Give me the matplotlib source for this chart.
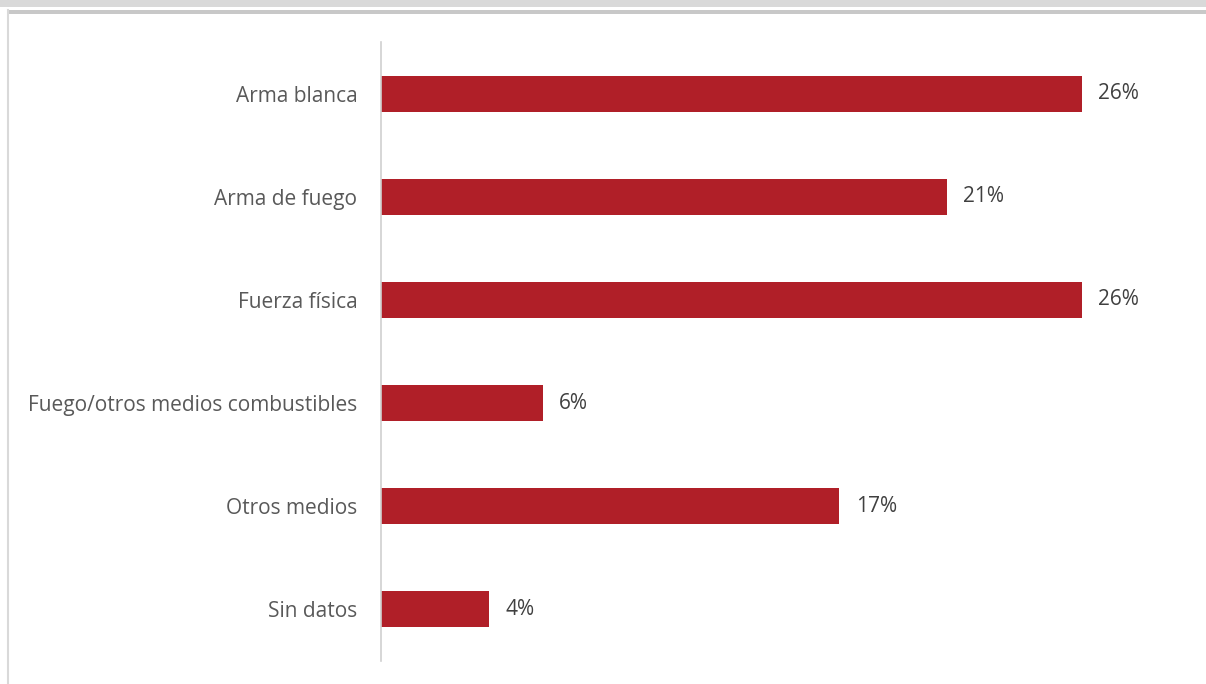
import matplotlib
matplotlib.use("Agg")
import matplotlib.pyplot as plt
from matplotlib.patches import Rectangle
from matplotlib.lines import Line2D

# datos
categorias = [
    "Arma blanca",
    "Arma de fuego",
    "Fuerza física",
    "Fuego/otros medios combustibles",
    "Otros medios",
    "Sin datos",
]
porcentajes = [26, 21, 26, 6, 17, 4]
etiquetas = ["26%", "21%", "26%", "6%", "17%", "4%"]

ROJO = "#B01F28"
plt.rcParams["font.family"] = ["Open Sans", "DejaVu Sans"]

fig = plt.figure(figsize=(12.06, 6.84), dpi=100)
W, H = 1206, 684

# marco de la hoja: franja gris superior, línea y borde izquierdo
fig.patches.append(Rectangle((0, 1 - 7 / H), 1, 7 / H, transform=fig.transFigure,
                             facecolor="#d9d9d9", edgecolor="none"))
fig.patches.append(Rectangle((7 / W, 1 - 14 / H), 1, 4 / H, transform=fig.transFigure,
                             facecolor="#c8c8c8", edgecolor="none"))
fig.lines.append(Line2D([7.5 / W, 7.5 / W], [0, 1 - 10 / H], transform=fig.transFigure,
                        color="#d9d9d9", lw=1.5))

ax = fig.add_axes([381 / W, 23 / H, 809 / W, 619 / H])
y = list(range(len(categorias)))
barras = ax.barh(y, porcentajes, height=0.35, color=ROJO)
for b, txt in zip(barras, etiquetas):
    ax.text(b.get_width() + 0.6, b.get_y() + b.get_height() / 2, txt,
            va="center", ha="left", fontsize=15, color="#404040")

ax.set_xlim(0, 30)
ax.set_ylim(5.5, -0.5)
ax.set_yticks(y)
ax.set_yticklabels(categorias, fontsize=15, color="#595959")
ax.tick_params(axis="y", length=0, pad=17)
ax.set_xticks([])
for lado in ["top", "right", "bottom"]:
    ax.spines[lado].set_visible(False)
ax.spines["left"].set_color("#d0d0d0")
ax.spines["left"].set_linewidth(1.2)

fig.savefig("out.png", dpi=100)
